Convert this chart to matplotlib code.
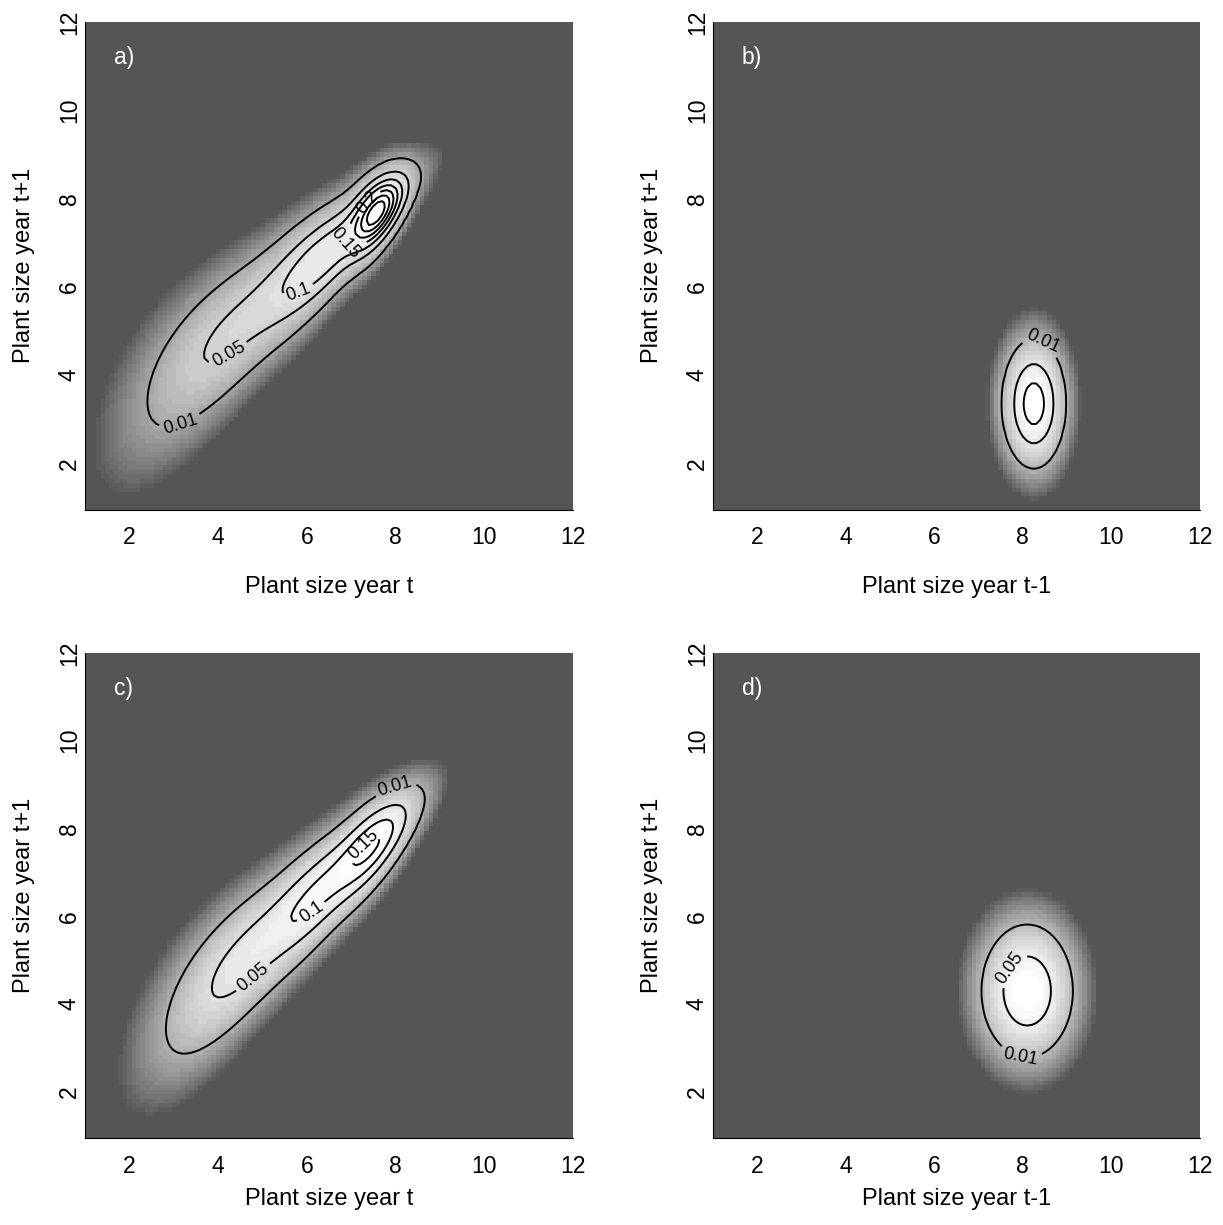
import numpy as np
import matplotlib
matplotlib.use('Agg')
import matplotlib.pyplot as plt
from matplotlib.colors import ListedColormap, LogNorm

plt.rcParams['font.family'] = ['Liberation Sans', 'DejaVu Sans']

# size grid shared by all four panels
sizes = np.linspace(1.0, 12.0, 111)

# Each surface: height of the ridge along x (sum of bumps: centre, sd, height),
# ridge centre line y = c0 + c1*x and its spread in y = s0 + s1*x.
a_bump_x = [4.3, 6.4, 7.6]
a_bump_sd = [1.0, 0.8, 0.35]
a_bump_h = [0.06, 0.14, 0.30]
a_line = [1.4, 0.83]
a_spread = [1.0, -0.08]

b_bump_x = [8.25]
b_bump_sd = [0.32]
b_bump_h = [0.13]
b_line = [3.35, 0.0]
b_spread = [0.65, 0.0]

c_bump_x = [4.6, 6.3, 7.5]
c_bump_sd = [0.9, 0.7, 0.5]
c_bump_h = [0.07, 0.10, 0.14]
c_line = [0.89, 0.9]
c_spread = [0.957, -0.068]

d_bump_x = [8.1]
d_bump_sd = [0.49]
d_bump_h = [0.091]
d_line = [4.3, 0.0]
d_spread = [0.72, 0.0]

a_levels = [0.01, 0.05, 0.1, 0.15, 0.2, 0.25, 0.3]
b_levels = [0.01, 0.05, 0.1]
c_levels = [0.01, 0.05, 0.1, 0.15]
d_levels = [0.01, 0.05]

x_labels = ['Plant size year t', 'Plant size year t-1', 'Plant size year t', 'Plant size year t-1']
y_label = 'Plant size year t+1'
panel_tags = ['a)', 'b)', 'c)', 'd)']


def surface(bx, bsd, bh, line, spread):
    X, Y = np.meshgrid(sizes, sizes)
    ridge = np.zeros_like(X)
    for m, s, h in zip(bx, bsd, bh):
        ridge += h * np.exp(-0.5 * ((X - m) / s) ** 2)
    centre = line[0] + line[1] * X
    width = spread[0] + spread[1] * X
    return ridge * np.exp(-0.5 * ((Y - centre) / width) ** 2)


panels = [
    (surface(a_bump_x, a_bump_sd, a_bump_h, a_line, a_spread), a_levels,
     {0.01: (3.03, 3.19), 0.05: (4.2, 4.53), 0.1: (5.85, 5.8), 0.15: (6.75, 6.6), 0.2: (7.49, 7.81)}),
    (surface(b_bump_x, b_bump_sd, b_bump_h, b_line, b_spread), b_levels,
     {0.01: (8.3, 4.5)}),
    (surface(c_bump_x, c_bump_sd, c_bump_h, c_line, c_spread), c_levels,
     {0.01: (8.03, 8.86), 0.05: (4.6, 4.85), 0.1: (6.1, 6.1), 0.15: (7.13, 7.76)}),
    (surface(d_bump_x, d_bump_sd, d_bump_h, d_line, d_spread), d_levels,
     {0.05: (7.75, 4.8), 0.01: (7.98, 2.94)}),
]

grays = np.linspace(85 / 255, 1.0, 24)
cmap = ListedColormap(np.column_stack([grays, grays, grays]))
cmap.set_under('#555555')
cmap.set_bad('#555555')

boxes = [
    [0.0695, 0.584, 0.399, 0.398],
    [0.583, 0.584, 0.398, 0.398],
    [0.0695, 0.071, 0.399, 0.396],
    [0.583, 0.071, 0.398, 0.396],
]
xlabel_y = [-0.137, -0.137, -0.103, -0.103]

fig = plt.figure(figsize=(12.23, 12.25), dpi=100)

for k, (Z, levels, spots) in enumerate(panels):
    ax = fig.add_axes(boxes[k])
    ax.pcolormesh(sizes, sizes, Z, cmap=cmap, shading='nearest',
                  norm=LogNorm(vmin=4e-4, vmax=Z.max()))
    # one contour set per level so each label sits on its own line
    for lv in levels:
        if Z.max() <= lv:
            continue
        cs = ax.contour(sizes, sizes, Z, levels=[lv], colors='black', linewidths=1.4)
        if lv in spots:
            ax.clabel(cs, fmt=lambda v: f'{v:g}', fontsize=13,
                      inline=True, inline_spacing=4, manual=[spots[lv]])
    ax.text(1.65, 11.2, panel_tags[k], color='white', fontsize=16.5, va='center')

    ax.set_xlim(1.0, 12.0)
    ax.set_ylim(0.95, 12.0)
    ax.set_xticks([2, 4, 6, 8, 10, 12])
    ax.set_yticks([2, 4, 6, 8, 10, 12])
    ax.tick_params(length=0, labelsize=16.5)
    ax.tick_params(axis='x', pad=12)
    ax.tick_params(axis='y', pad=3)
    for lab in ax.get_yticklabels():
        lab.set_rotation(90)
        lab.set_va('center')
    ax.spines['top'].set_visible(False)
    ax.spines['right'].set_visible(False)
    ax.set_xlabel(x_labels[k], fontsize=17)
    ax.set_ylabel(y_label, fontsize=17)
    ax.xaxis.set_label_coords(0.5, xlabel_y[k])
    ax.yaxis.set_label_coords(-0.102, 0.5)

fig.savefig('out.png', dpi=100, facecolor='white')
